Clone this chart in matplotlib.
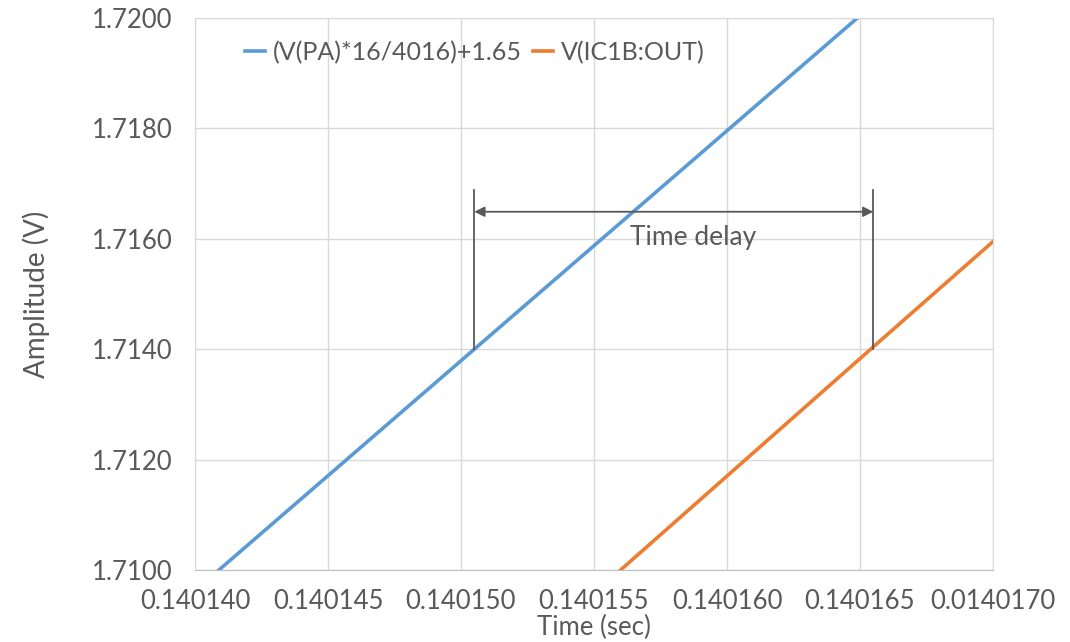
import numpy as np
import matplotlib.pyplot as plt

plt.rcParams['font.family'] = ['Lato', 'DejaVu Sans']

# данные
t_pa = [0.1401409, 0.1401457, 0.1401505, 0.1401553, 0.1401601, 0.1401649]
v_pa = [1.7100, 1.7120, 1.7140, 1.7160, 1.7180, 1.7200]
t_out = [0.1401560, 0.1401607, 0.1401654, 0.1401700]
v_out = [1.7100, 1.7120, 1.7140, 1.71595]

x_ticks = [0.140140, 0.140145, 0.140150, 0.140155, 0.140160, 0.140165, 0.140170]
x_labels = ['0.140140', '0.140145', '0.140150', '0.140155', '0.140160', '0.140165', '0.0140170']
y_ticks = [1.7100, 1.7120, 1.7140, 1.7160, 1.7180, 1.7200]

t_start = 0.1401505  # начало задержки
t_end = 0.1401655    # конец задержки
v_mark = 1.7140
v_top = 1.71688
v_arrow = 1.71649

grey = '#595959'

fig = plt.figure(figsize=(10.7, 6.42), dpi=100)
ax = fig.add_axes([195 / 1070, 1 - 570 / 642, 798 / 1070, 552 / 642])

ax.plot(t_pa, v_pa, color='#5B9BD5', linewidth=2.6, label='(V(PA)*16/4016)+1.65')
ax.plot(t_out, v_out, color='#ED7D31', linewidth=2.6, label='V(IC1B:OUT)')

# разметка задержки
ax.plot([t_start, t_start], [v_mark, v_top], color=grey, linewidth=1.3)
ax.plot([t_end, t_end], [v_mark, v_top], color=grey, linewidth=1.3)
ax.annotate('', xy=(t_start, v_arrow), xytext=(t_end, v_arrow),
            arrowprops=dict(arrowstyle='<|-|>', color=grey, lw=1.3, mutation_scale=15,
                            shrinkA=0, shrinkB=0))
ax.text(0.14015872, 1.71603, 'Time delay', color=grey,
        fontsize=19, ha='center', va='center')

ax.set_xlim(0.140140, 0.140170)
ax.set_ylim(1.7100, 1.7200)
ax.set_xticks(x_ticks)
ax.set_xticklabels(x_labels)
ax.set_yticks(y_ticks)
ax.set_yticklabels(['%.4f' % v for v in y_ticks])

ax.grid(True, color='#d9d9d9', linewidth=1)
ax.set_axisbelow(True)
for s in ax.spines.values():
    s.set_color('#d9d9d9')
ax.spines['bottom'].set_color('#bfbfbf')
ax.tick_params(length=0, labelsize=18.5, colors=grey)
ax.tick_params(axis='x', pad=14)
ax.tick_params(axis='y', pad=16)

ax.set_xlabel('Time (sec)', fontsize=18.5, color=grey, labelpad=0)
ax.set_ylabel('Amplitude (V)', fontsize=20, color=grey, labelpad=30)

ax.legend(loc='upper left', bbox_to_anchor=(0.035, 1.0), ncol=2, frameon=False,
          fontsize=18, handlelength=0.8, handletextpad=0.3, columnspacing=0.45,
          labelcolor=grey)

fig.savefig('out.png')
